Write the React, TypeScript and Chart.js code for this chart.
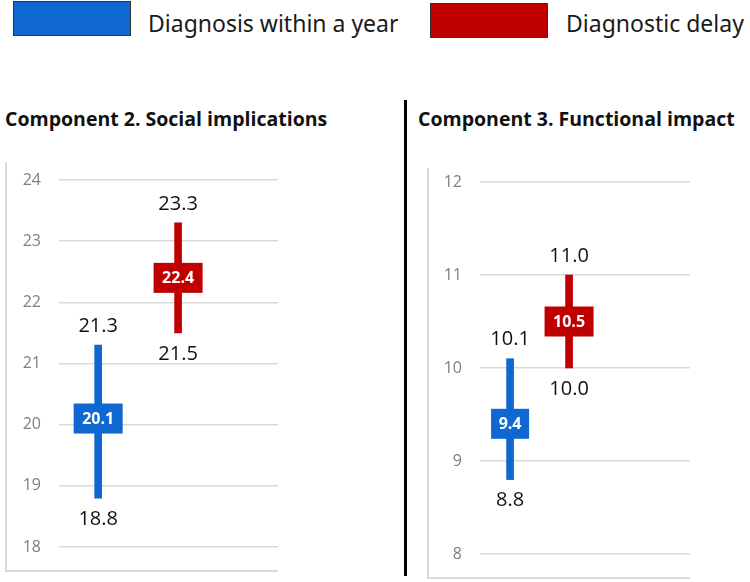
import React, { useEffect, useRef } from "react";
import { Chart, registerables } from "chart.js";

Chart.register(...registerables);

const seriesNames = ["Diagnosis within a year", "Diagnostic delay"];
const seriesColors = ["#0f67d2", "#c00000"];
const panelTitles = ["Component 2. Social implications", "Component 3. Functional impact"];

const socialMeans = [20.1, 22.4];
const socialLows = [18.8, 21.5];
const socialHighs = [21.3, 23.3];
const socialAxis = [18, 24];

const functionalMeans = [9.4, 10.5];
const functionalLows = [8.8, 10.0];
const functionalHighs = [10.1, 11.0];
const functionalAxis = [8, 12];

const NUM_FONT = "'Open Sans', 'Noto Sans', sans-serif";

type PanelProps = {
  means: number[];
  lows: number[];
  highs: number[];
  axis: number[];
  xMin: number;
  xMax: number;
  boxWidths: number[];
  axisWidth: number;
  width: number;
  height: number;
  padTop: number;
  padBottom: number;
};

function Panel(p: PanelProps) {
  const ref = useRef<HTMLCanvasElement>(null);
  useEffect(() => {
    if (!ref.current) return;
    const boxPlugin = {
      id: "boxes",
      afterDatasetsDraw(chart: any) {
        const ctx = chart.ctx;
        const meta = chart.getDatasetMeta(0);
        const ys = chart.scales.y;
        meta.data.forEach((el: any, i: number) => {
          const x = el.x;
          const ym = ys.getPixelForValue(p.means[i]);
          const yh = ys.getPixelForValue(p.highs[i]);
          const yl = ys.getPixelForValue(p.lows[i]);
          const w = p.boxWidths[i];
          const h = 30;
          ctx.save();
          ctx.fillStyle = seriesColors[i];
          ctx.fillRect(x - w / 2, ym - h / 2, w, h);
          ctx.fillStyle = "#ffffff";
          ctx.font = `bold 16px ${NUM_FONT}`;
          ctx.textAlign = "center";
          ctx.textBaseline = "middle";
          ctx.fillText(p.means[i].toFixed(1), x, ym + 1);
          ctx.fillStyle = "#111111";
          ctx.font = `20px ${NUM_FONT}`;
          ctx.fillText(p.highs[i].toFixed(1), x, yh - 19);
          ctx.fillText(p.lows[i].toFixed(1), x, yl + 21);
          ctx.restore();
        });
      },
    };
    const chart = new Chart(ref.current, {
      type: "bar",
      data: {
        datasets: [
          {
            data: p.means.map((_, i) => ({ x: i, y: [p.lows[i], p.highs[i]] })) as any,
            backgroundColor: seriesColors,
            barThickness: 7,
            borderWidth: 0,
          },
        ],
      },
      options: {
        animation: false,
        responsive: false,
        devicePixelRatio: 1,
        layout: { padding: { top: p.padTop, bottom: p.padBottom, left: 0, right: 0 } },
        plugins: { legend: { display: false }, tooltip: { enabled: false } },
        scales: {
          x: { type: "linear", min: p.xMin, max: p.xMax, offset: false, display: false },
          y: {
            min: p.axis[0],
            max: p.axis[1],
            ticks: {
              stepSize: 1,
              color: "#7f7f7f",
              font: { family: NUM_FONT, size: 16 },
              padding: 18,
            },
            grid: { color: "#d9d9d9", lineWidth: 1.5, drawTicks: false },
            border: { display: false },
            afterFit: (s: any) => {
              s.width = p.axisWidth;
              s.paddingTop = 0;
              s.paddingBottom = 0;
            },
          },
        },
      },
      plugins: [boxPlugin],
    });
    return () => chart.destroy();
  }, []);
  return <canvas ref={ref} width={p.width} height={p.height} style={{ display: "block" }} />;
}

export default function App() {
  const legendText: React.CSSProperties = {
    position: "absolute",
    fontFamily: "'Noto Sans', 'Open Sans', sans-serif",
    fontSize: 23,
    color: "#1a1a1a",
    lineHeight: "26px",
    whiteSpace: "nowrap",
  };
  const titleStyle: React.CSSProperties = {
    position: "absolute",
    fontFamily: "'Open Sans', 'Noto Sans', sans-serif",
    fontWeight: "bold",
    fontSize: 19.5,
    color: "#111",
    lineHeight: "24px",
    whiteSpace: "nowrap",
  };
  return (
    <div style={{ position: "absolute", left: 0, top: 0, width: 750, height: 582, background: "#fff", overflow: "hidden" }}>
      <div style={{ position: "absolute", left: 13, top: 1, width: 118, height: 35, background: seriesColors[0], border: "1.5px solid #333", boxSizing: "border-box" }} />
      <div style={{ ...legendText, left: 148, top: 10 }}>{seriesNames[0]}</div>
      <div style={{ position: "absolute", left: 430, top: 3, width: 118, height: 35, background: seriesColors[1], border: "1.5px solid #333", boxSizing: "border-box" }} />
      <div style={{ ...legendText, left: 566, top: 10 }}>{seriesNames[1]}</div>

      <div style={{ ...titleStyle, left: 5, top: 107 }}>{panelTitles[0]}</div>
      <div style={{ ...titleStyle, left: 418, top: 107 }}>{panelTitles[1]}</div>
      <div style={{ position: "absolute", left: 404, top: 100, width: 3, height: 476, background: "#000" }} />

      <div style={{ position: "absolute", left: 6, top: 160 }}>
        <Panel
          means={socialMeans}
          lows={socialLows}
          highs={socialHighs}
          axis={socialAxis}
          xMin={-0.49}
          xMax={2.25}
          boxWidths={[49, 49]}
          axisWidth={53}
          width={272}
          height={412}
          padTop={20}
          padBottom={25}
        />
      </div>
      <div style={{ position: "absolute", left: 5, top: 162, width: 273, height: 410, borderLeft: "2px solid #d9d9d9", borderBottom: "2px solid #d9d9d9", boxSizing: "border-box" }} />

      <div style={{ position: "absolute", left: 428, top: 162 }}>
        <Panel
          means={functionalMeans}
          lows={functionalLows}
          highs={functionalHighs}
          axis={functionalAxis}
          xMin={-0.51}
          xMax={3.05}
          boxWidths={[38, 49]}
          axisWidth={52}
          width={262}
          height={416}
          padTop={20}
          padBottom={24}
        />
      </div>
      <div style={{ position: "absolute", left: 427, top: 168, width: 263, height: 411, borderLeft: "2px solid #d9d9d9", borderBottom: "2px solid #d9d9d9", boxSizing: "border-box" }} />
    </div>
  );
}
